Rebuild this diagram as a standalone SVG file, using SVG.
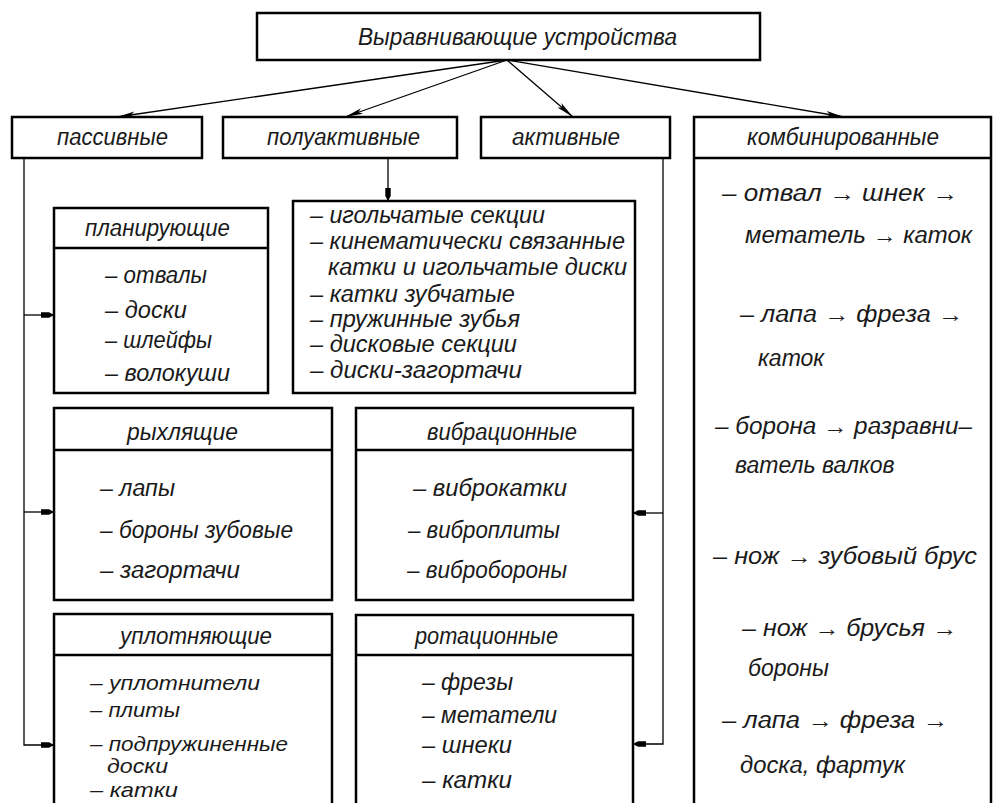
<svg xmlns="http://www.w3.org/2000/svg" width="994" height="803" viewBox="0 0 994 803">
<style>
.box{fill:#fff;stroke:#000;stroke-width:2.5}
.div{stroke:#000;stroke-width:2.5}
.ln{fill:none;stroke:#000;stroke-width:1.3}
text{font-family:"Liberation Sans",Arial,sans-serif;font-style:italic;font-size:23px;fill:#1a1a1a}
.sm{font-size:21px}
</style>
<defs>
<marker id="ah" markerUnits="userSpaceOnUse" markerWidth="19" markerHeight="9" refX="18" refY="4.5" orient="auto"><path d="M0,1.5 L18,4.5 L0,7.5 L4,4.5 Z" fill="#000"/></marker>
<marker id="ab" markerUnits="userSpaceOnUse" markerWidth="14" markerHeight="8" refX="13" refY="4" orient="auto"><path d="M0,1.3 L8,1.3 L13,4 L8,6.7 L0,6.7 Z" fill="#000"/></marker>
</defs>
<rect width="994" height="803" fill="#fff"/>

<g id="connectors">
<line class="ln" x1="507" y1="60" x2="117" y2="117" marker-end="url(#ah)"/>
<line class="ln" x1="507" y1="60" x2="345" y2="117" marker-end="url(#ah)"/>
<line class="ln" x1="507" y1="60" x2="573" y2="117" marker-end="url(#ah)"/>
<line class="ln" x1="507" y1="60" x2="844" y2="117" marker-end="url(#ah)"/>
<line class="ln" x1="388" y1="158" x2="388" y2="201" marker-end="url(#ab)"/>
<path class="ln" d="M24,159 V745 H54" marker-end="url(#ab)"/>
<path class="ln" d="M24,315 H54" marker-end="url(#ab)"/>
<path class="ln" d="M24,512 H54" marker-end="url(#ab)"/>
<path class="ln" d="M663,158 V744 H633" marker-end="url(#ab)"/>
<path class="ln" d="M663,513 H633" marker-end="url(#ab)"/>
</g>

<g id="root">
<rect class="box" x="257" y="13" width="503" height="47"/>
<text x="358" y="45" textLength="319" lengthAdjust="spacingAndGlyphs">Выравнивающие устройства</text>
</g>

<g id="passive">
<rect class="box" x="12" y="117" width="190" height="41"/>
<text x="57" y="145" textLength="111" lengthAdjust="spacingAndGlyphs">пассивные</text>
</g>
<g id="semiactive">
<rect class="box" x="223" y="117" width="234" height="41"/>
<text x="267" y="145" textLength="153" lengthAdjust="spacingAndGlyphs">полуактивные</text>
</g>
<g id="active">
<rect class="box" x="481" y="117" width="189" height="41"/>
<text x="512" y="145" textLength="108" lengthAdjust="spacingAndGlyphs">активные</text>
</g>
<g id="combined">
<rect class="box" x="694" y="117" width="297" height="720"/>
<line class="div" x1="694" y1="158" x2="991" y2="158"/>
<text x="747" y="145" textLength="192" lengthAdjust="spacingAndGlyphs">комбинированные</text>
<text x="722" y="201" textLength="236" lengthAdjust="spacingAndGlyphs">– отвал → шнек →</text>
<text x="745" y="243" textLength="227" lengthAdjust="spacingAndGlyphs">метатель → каток</text>
<text x="740" y="322" textLength="223" lengthAdjust="spacingAndGlyphs">– лапа → фреза →</text>
<text x="758" y="366">каток</text>
<text x="715" y="434" textLength="257" lengthAdjust="spacingAndGlyphs">– борона → разравни–</text>
<text x="735" y="473">ватель валков</text>
<text x="713" y="564" textLength="264" lengthAdjust="spacingAndGlyphs">– нож → зубовый брус</text>
<text x="742" y="636" textLength="215" lengthAdjust="spacingAndGlyphs">– нож → брусья →</text>
<text x="748" y="676">бороны</text>
<text x="722" y="728" textLength="226" lengthAdjust="spacingAndGlyphs">– лапа → фреза →</text>
<text x="740" y="773" textLength="165" lengthAdjust="spacingAndGlyphs">доска, фартук</text>
</g>

<g id="planning">
<rect class="box" x="54" y="208" width="214" height="185"/>
<line class="div" x1="54" y1="248" x2="268" y2="248"/>
<text x="85" y="236" textLength="145" lengthAdjust="spacingAndGlyphs">планирующие</text>
<text x="105" y="283" textLength="102" lengthAdjust="spacingAndGlyphs">– отвалы</text>
<text x="105" y="318" textLength="82" lengthAdjust="spacingAndGlyphs">– доски</text>
<text x="105" y="348" textLength="107" lengthAdjust="spacingAndGlyphs">– шлейфы</text>
<text x="105" y="381" textLength="125" lengthAdjust="spacingAndGlyphs">– волокуши</text>
</g>

<g id="semiactive-list">
<rect class="box" x="293" y="201" width="342" height="192"/>
<text x="310" y="223" textLength="235" lengthAdjust="spacingAndGlyphs">– игольчатые секции</text>
<text x="310" y="249" textLength="315" lengthAdjust="spacingAndGlyphs">– кинематически связанные</text>
<text x="328" y="275" textLength="299" lengthAdjust="spacingAndGlyphs">катки и игольчатые диски</text>
<text x="310" y="302" textLength="205" lengthAdjust="spacingAndGlyphs">– катки зубчатые</text>
<text x="310" y="327" textLength="210" lengthAdjust="spacingAndGlyphs">– пружинные зубья</text>
<text x="310" y="352" textLength="207" lengthAdjust="spacingAndGlyphs">– дисковые секции</text>
<text x="310" y="378" textLength="212" lengthAdjust="spacingAndGlyphs">– диски-загортачи</text>
</g>

<g id="loosening">
<rect class="box" x="54" y="408" width="278" height="192"/>
<line class="div" x1="54" y1="450" x2="332" y2="450"/>
<text x="127" y="440" textLength="111" lengthAdjust="spacingAndGlyphs">рыхлящие</text>
<text x="100" y="496" textLength="75" lengthAdjust="spacingAndGlyphs">– лапы</text>
<text x="100" y="538" textLength="193" lengthAdjust="spacingAndGlyphs">– бороны зубовые</text>
<text x="100" y="578" textLength="140" lengthAdjust="spacingAndGlyphs">– загортачи</text>
</g>

<g id="vibration">
<rect class="box" x="356" y="408" width="277" height="192"/>
<line class="div" x1="356" y1="450" x2="633" y2="450"/>
<text x="427" y="440" textLength="150" lengthAdjust="spacingAndGlyphs">вибрационные</text>
<text x="413" y="496" textLength="154" lengthAdjust="spacingAndGlyphs">– виброкатки</text>
<text x="408" y="538" textLength="152" lengthAdjust="spacingAndGlyphs">– виброплиты</text>
<text x="407" y="578" textLength="160" lengthAdjust="spacingAndGlyphs">– вибробороны</text>
</g>

<g id="compacting">
<rect class="box" x="54" y="614" width="278" height="220"/>
<line class="div" x1="54" y1="655" x2="332" y2="655"/>
<text x="120" y="644" textLength="152" lengthAdjust="spacingAndGlyphs">уплотняющие</text>
<text class="sm" x="90" y="690" textLength="170" lengthAdjust="spacingAndGlyphs">– уплотнители</text>
<text class="sm" x="90" y="717" textLength="90" lengthAdjust="spacingAndGlyphs">– плиты</text>
<text class="sm" x="90" y="751" textLength="198" lengthAdjust="spacingAndGlyphs">– подпружиненные</text>
<text class="sm" x="107" y="773" textLength="61" lengthAdjust="spacingAndGlyphs">доски</text>
<text class="sm" x="90" y="797" textLength="88" lengthAdjust="spacingAndGlyphs">– катки</text>
</g>

<g id="rotary">
<rect class="box" x="356" y="615" width="277" height="220"/>
<line class="div" x1="356" y1="655" x2="633" y2="655"/>
<text x="415" y="644" textLength="143" lengthAdjust="spacingAndGlyphs">ротационные</text>
<text x="422" y="690" textLength="91" lengthAdjust="spacingAndGlyphs">– фрезы</text>
<text x="422" y="723" textLength="135" lengthAdjust="spacingAndGlyphs">– метатели</text>
<text x="422" y="753" textLength="90" lengthAdjust="spacingAndGlyphs">– шнеки</text>
<text x="422" y="788" textLength="90" lengthAdjust="spacingAndGlyphs">– катки</text>
</g>
</svg>
